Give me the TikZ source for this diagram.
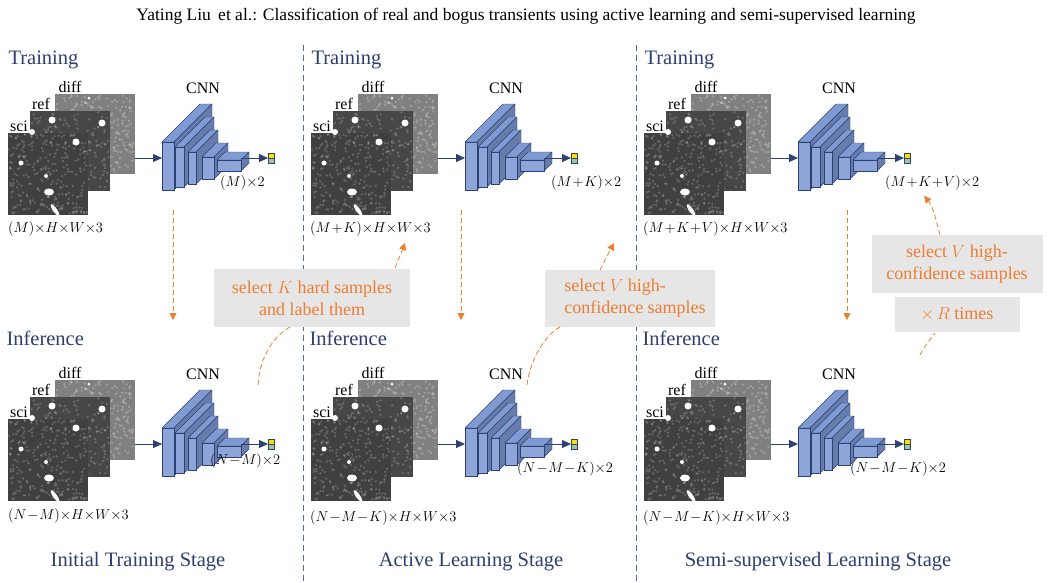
\documentclass[tikz,border=0pt]{standalone}
\usepackage{fontspec}
\setmainfont{Liberation Serif}
\usetikzlibrary{arrows.meta}
\definecolor{tblue}{RGB}{47,62,112}
\definecolor{slab}{RGB}{128,155,212}
\definecolor{slabd}{RGB}{45,65,115}
\definecolor{orng}{RGB}{237,125,49}
\definecolor{gbox}{RGB}{230,230,230}
\newcommand{\tm}{{\times}}
\newcommand{\mm}[1]{$\medmuskip=1mu\relax #1$}
\tikzset{
 x=1pt,y=-1pt,
 hd/.style={font=\fontsize{20.5}{22}\selectfont,text=tblue,anchor=west},
 lb/.style={font=\fontsize{14}{16}\selectfont,anchor=west,inner sep=0pt},
 sm/.style={font=\fontsize{16}{18}\selectfont},
 ob/.style={fill=gbox,text=orng,font=\fontsize{18}{22}\selectfont,align=left,inner sep=0pt},
 oarr/.style={orng,dash pattern=on 5pt off 3pt,thick,-{Triangle[length=7pt,width=7pt]}},
 oline/.style={orng,dash pattern=on 5pt off 3pt,thick},
 conn/.style={slabd,thick,-{Triangle[length=9pt,width=8pt]}},
 stage/.style={font=\fontsize{20.5}{22}\selectfont,text=tblue},
 pics/stack/.style={code={
   \fill[black!50] (47,-39) rectangle (127,41);
   \pgfmathsetseed{3}
   \foreach \i in {1,...,260}{\fill[white,opacity=0.25] (47+rnd*78,-38+rnd*78) circle (1.3);}
   \fill[white] (81,-35) circle (1.5);
   \fill[black!72] (22,-22) rectangle (102,58);
   \foreach \i in {1,...,200}{\fill[white,opacity=0.2] (23+rnd*78,-21+rnd*78) circle (1.3);}
   \fill[white] (44,-13) circle (3.5); \fill[white] (94,-10) circle (3.5);
   \fill[black!75] (0,0) rectangle (80,82);
   \foreach \i in {1,...,260}{\fill[white,opacity=0.2] (1+rnd*78,1+rnd*80) circle (1.3);}
   \fill[white] (24,-1) circle (3); \fill[white] (13,30) circle (2.5);\fill[white] (38,43) circle (2);
   \fill[white] (41,59) ellipse (5 and 3.5); \fill[white,rotate around={-55:(47,77)}] (47,77) ellipse (7 and 2);
   \fill[white] (68,9) circle (3.5);
   \node[sm,anchor=south,inner sep=1pt] at (11,0) {sci};
   \node[sm,anchor=south,inner sep=1pt] at (33,-22) {ref};
   \node[sm,anchor=south,inner sep=1pt] at (62,-39) {diff};
   \coordinate (-out) at (127,25);
 }},
 pics/cnn/.style={code={
   \node[sm] (-lab) at (41,-54) {CNN};
   \coordinate (-in) at (0,16);
   \foreach \x/\y/\w/\h/\d in {0/0/12/48/38, 13/5/9/40/30, 26/10/8/32/22, 40/15/12/22/14, 55/18/24/11/8}{
     \filldraw[fill=slab,draw=slabd,line join=round] (\x,\y)--(\x+\d,\y-\d)--(\x+\w+\d,\y-\d)--(\x+\w,\y)--cycle;
     \filldraw[fill=slab!80!black,draw=slabd,line join=round] (\x+\w,\y)--(\x+\w+\d,\y-\d)--(\x+\w+\d,\y+\h-\d)--(\x+\w,\y+\h)--cycle;
     \filldraw[fill=slab!90!white,draw=slabd] (\x,\y) rectangle (\x+\w,\y+\h);
   }
   \coordinate (-out) at (79,16);
   \filldraw[fill=yellow!80!orange,draw=slabd] (106,11) rectangle (112,16);
   \filldraw[fill=green!30!gray!60,draw=slabd] (106,16) rectangle (112,21);
   \coordinate (-box) at (106,16);
 }}
}
\begin{document}
\begin{tikzpicture}
\useasboundingbox (0,0) rectangle (1053,582);
\node[font=\fontsize{17.5}{19}\selectfont] (title) at (526,16) {Yating Liu\, et al.: Classification of real and bogus transients using active learning and semi-supervised learning};
\draw[slabd!80,dash pattern=on 6pt off 4pt,thick] (303,45) coordinate (d1a) -- (303,582) coordinate (d1b);
\draw[slabd!80,dash pattern=on 6pt off 4pt,thick] (636,45) coordinate (d2a) -- (636,582) coordinate (d2b);
\foreach \o/\n in {0/a,303/b,636/c}{
  \node[hd] (tr\n) at (\o+5,60) {Training};
  \node[hd] (in\n) at (\o+3,338) {Inference};
  \pic (s\n) at (\o+8,133) {stack};
  \pic (c\n) at (\o+162,142) {cnn};
  \draw[conn] (s\n-out) -- (c\n-in);
  \draw[conn] (c\n-out) -- (c\n-box);
  \pic (t\n) at (\o+8,419) {stack};
  \pic (k\n) at (\o+162,428) {cnn};
  \draw[conn] (t\n-out) -- (k\n-in);
  \draw[conn] (k\n-out) -- (k\n-box);
}
\node[lb] (ia) at (8,229) {\mm{(M)\tm H\tm W\tm 3}};
\node[lb] (ib) at (310,229) {\mm{(M+K)\tm H\tm W\tm 3}};
\node[lb] (ic) at (643,229) {\mm{(M+K+V)\tm H\tm W\tm 3}};
\node[lb] (oa) at (220,183) {\mm{(M)\tm 2}};
\node[lb] (ob) at (551,183) {\mm{(M+K)\tm 2}};
\node[lb] (oc) at (885,183) {\mm{(M+K+V)\tm 2}};
\node[lb] (ja) at (8,516) {\mm{(N-M)\tm H\tm W\tm 3}};
\node[lb] (jb) at (310,518) {\mm{(N-M-K)\tm H\tm W\tm 3}};
\node[lb] (jc) at (643,518) {\mm{(N-M-K)\tm H\tm W\tm 3}};
\node[lb] (pa) at (210,461) {\mm{(N-M)\tm 2}};
\node[lb] (pb) at (517,469) {\mm{(N-M-K)\tm 2}};
\node[lb] (pc) at (850,469) {\mm{(N-M-K)\tm 2}};
\node[stage] (sa) at (138,562) {Initial Training Stage};
\node[stage] (sb) at (471,562) {Active Learning Stage};
\node[stage] (sc) at (818,562) {Semi-supervised Learning Stage};
\node[ob,minimum width=196,minimum height=58,align=center] (b1) at (312,298) {select $K$ hard samples\\ and label them};
\node[ob,minimum width=170,minimum height=57] (b2) at (630,298) {\hspace*{10pt}\begin{tabular}{@{}l@{}}select $V$ high-\\confidence samples\end{tabular}};
\node[ob,minimum width=171,minimum height=58,align=center] (b3) at (957,264) {select $V$ high-\\confidence samples};
\node[ob,minimum width=125,minimum height=35] (b4) at (957,314) {$\times\, R$ times};
\foreach \x in {173,461,847}{\draw[oarr] (\x,210) -- (\x,320);}
\draw[oline] (258,385) .. controls (260,355) and (275,335) .. (290,327);
\draw[oarr] (395,268) .. controls (398,260) and (401,254) .. (405,243);
\draw[oline] (527,385) .. controls (530,360) and (545,335) .. (560,327);
\draw[oarr] (600,270) .. controls (604,262) and (608,254) .. (614,243);
\draw[oline] (920,355) .. controls (925,345) and (930,340) .. (935,333);
\draw[oarr] (940,235) .. controls (935,215) and (932,205) .. (924,196);
\end{tikzpicture}
\end{document}
